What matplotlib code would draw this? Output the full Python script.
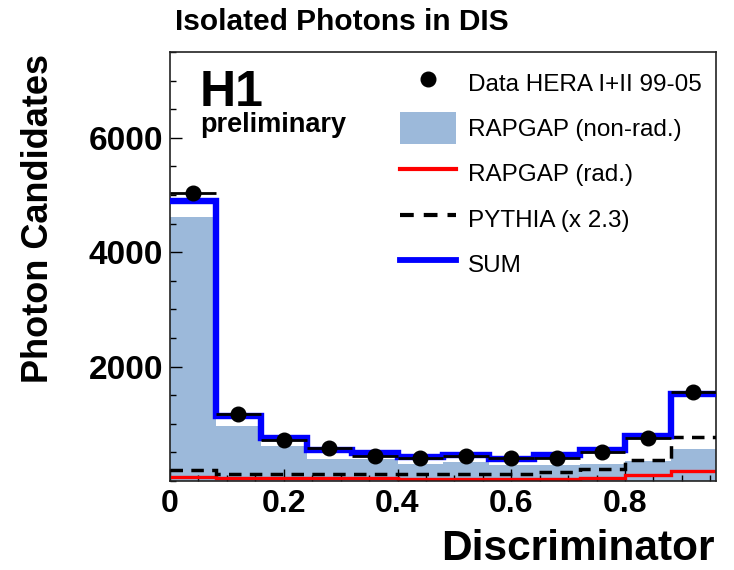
import matplotlib
matplotlib.use("Agg")
import matplotlib.pyplot as plt
from matplotlib.lines import Line2D
from matplotlib.patches import Patch
from matplotlib.ticker import MultipleLocator, FixedLocator

plt.rcParams['font.family'] = ['Liberation Sans', 'DejaVu Sans']

# Discriminator binning (12 bins of width 0.08)
bin_edges = [0.0, 0.08, 0.16, 0.24, 0.32, 0.40, 0.48, 0.56, 0.64, 0.72, 0.80, 0.88, 0.96]
bin_centers = [0.04, 0.12, 0.20, 0.28, 0.36, 0.44, 0.52, 0.60, 0.68, 0.76, 0.84, 0.92]
bin_halfwidth = 0.04

# Photon candidates per bin
data_counts = [5030, 1175, 725, 575, 445, 400, 445, 405, 410, 515, 745, 1555]
rapgap_nonrad = [4620, 960, 612, 380, 385, 300, 330, 272, 272, 290, 345, 565]
rapgap_rad = [65, 48, 48, 46, 44, 40, 40, 40, 40, 55, 108, 182]
pythia_scaled = [184, 115, 115, 118, 122, 125, 128, 130, 165, 212, 360, 770]
mc_sum = [4890, 1140, 748, 535, 490, 428, 447, 380, 456, 541, 781, 1523]

x_ticks = [0.0, 0.2, 0.4, 0.6, 0.8]
x_ticklabels = ["0", "0.2", "0.4", "0.6", "0.8"]
y_ticks = [2000, 4000, 6000]
y_ticklabels = ["2000", "4000", "6000"]

fill_color = '#9cb9da'

fig = plt.figure(figsize=(7.34, 5.70), dpi=100)
ax = fig.add_axes([170/734, 1 - 481/570, (716-170)/734, (481-52)/570])

ax.stairs(rapgap_nonrad, bin_edges, fill=True, color=fill_color, zorder=1)
ax.stairs(rapgap_rad, bin_edges, baseline=None, color='#ff0000', lw=2.4, zorder=2)
ax.stairs(pythia_scaled, bin_edges, baseline=None, color='black', lw=2.5,
          linestyle=(0, (3.6, 2.4)), zorder=3)
ax.stairs(mc_sum, bin_edges, baseline=None, color='#0000ff', lw=4.6, zorder=4)
ax.errorbar(bin_centers, data_counts, xerr=bin_halfwidth, fmt='o', color='black',
            ms=10.5, elinewidth=2.0, capsize=0, zorder=5)

ax.set_xlim(0, 0.96)
ax.set_ylim(0, 7500)

ax.xaxis.set_major_locator(FixedLocator(x_ticks))
ax.set_xticklabels(x_ticklabels)
ax.xaxis.set_minor_locator(MultipleLocator(0.05))
ax.yaxis.set_major_locator(FixedLocator(y_ticks))
ax.set_yticklabels(y_ticklabels)
ax.yaxis.set_minor_locator(MultipleLocator(500))

ax.tick_params(which='both', direction='in', top=False, right=False, width=1.0)
ax.tick_params(which='major', length=8.6)
ax.tick_params(which='minor', length=4.3)
ax.tick_params(axis='y', which='major', labelsize=24, pad=5)
ax.tick_params(axis='x', which='major', labelsize=23, pad=6)
for lbl in ax.get_xticklabels() + ax.get_yticklabels():
    lbl.set_fontweight('bold')
for sp in ax.spines.values():
    sp.set_linewidth(1.2)
    sp.set_color('#222222')

# Axis titles
fig.text(39/734, 1 - 218/570, "Photon Candidates", rotation=90, ha='center', va='center',
         fontsize=26, fontweight='bold')
fig.text(715/734, 1 - 560/570, "Discriminator", ha='right', va='baseline',
         fontsize=30.5, fontweight='bold')
fig.text(175/734, 1 - 30/570, "Isolated Photons in DIS", ha='left', va='baseline',
         fontsize=21.5, fontweight='bold')

# Experiment label
fig.text(200/734, 1 - 106/570, "H1", ha='left', va='baseline', fontsize=36, fontweight='bold')
fig.text(200/734, 1 - 132/570, "preliminary", ha='left', va='baseline', fontsize=19.5,
         fontweight='bold')

handles = [
    Line2D([], [], marker='o', color='black', linestyle='none', ms=10.5),
    Patch(facecolor=fill_color, edgecolor='none'),
    Line2D([], [], color='#ff0000', lw=3),
    Line2D([], [], color='black', lw=3, linestyle=(0, (3.3, 2.4))),
    Line2D([], [], color='#0000ff', lw=4.2),
]
labels = ["Data HERA I+II 99-05", "RAPGAP (non-rad.)", "RAPGAP (rad.)",
          "PYTHIA (x 2.3)", "SUM"]
fig.legend(handles, labels, loc='upper left', bbox_to_anchor=(400/734, 1 - 67/570),
           frameon=False, fontsize=17.5, handlelength=2.3, handleheight=1.6,
           handletextpad=0.5, labelspacing=0.58, borderpad=0, borderaxespad=0)

fig.savefig("out.png", dpi=100)
